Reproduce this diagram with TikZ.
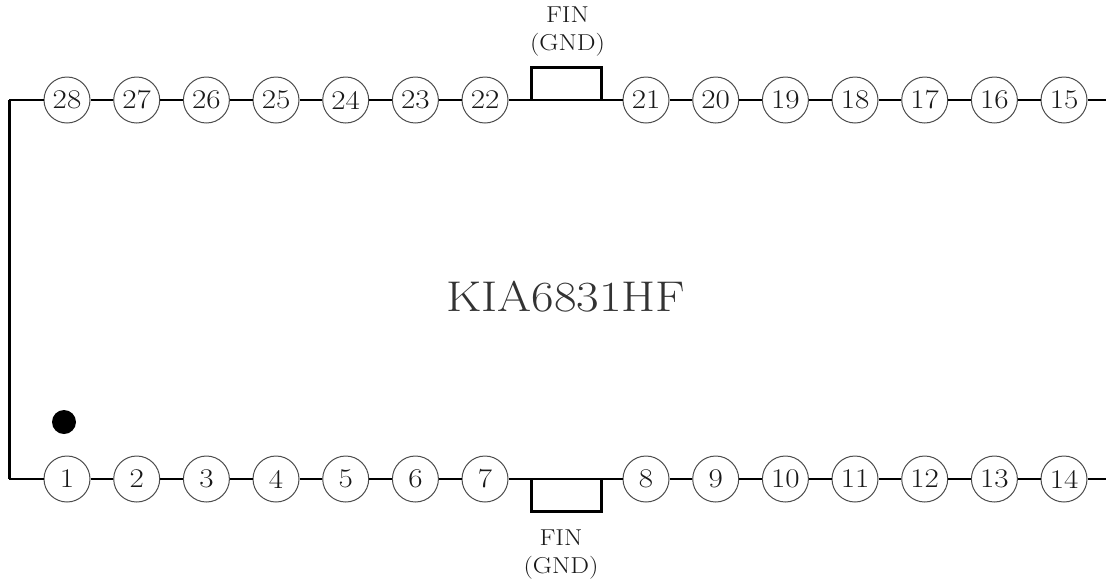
\documentclass[tikz,border=0pt]{standalone}
\newcommand{\widetext}[1]{\scalebox{1.15}[1]{#1}}
\tikzset{
  pin/.style={circle,draw=black!70,line width=1pt,minimum size=46pt,inner sep=0pt,text=black!90,font=\fontsize{27}{27}\selectfont,fill=white},
  finlabel/.style={align=center,inner sep=0pt,text=black!90,font=\fontsize{23}{28}\selectfont},
  wiretop/.style={line width=1.8pt,black},
  wirebot/.style={line width=2.6pt,black},
  finbox/.style={line width=3pt,black,line join=miter},
  sideline/.style={line width=3pt,black,line join=miter},
}
\begin{document}
\begin{tikzpicture}[x=1pt,y=-1pt]
\useasboundingbox (0,0) rectangle (1106,582);
\fill[white] (0,0) rectangle (1106,582);
% corner and free-end coordinates
\coordinate (tl) at (9,100);
\coordinate (bl) at (9,479);
\coordinate (tr) at (1106,100);
\coordinate (br) at (1106,479);
% top row pins
\foreach \n/\x in {28/67,27/136.7,26/206.4,25/276,24/345.7,23/415.4,22/485,21/646,20/715.7,19/785.4,18/855,17/924.7,16/994.4,15/1064}
  \node[pin] (p\n) at (\x,100) {\widetext{\n}};
% bottom row pins
\foreach \n/\x in {1/67,2/136.7,3/206.4,4/276,5/345.7,6/415.4,7/485,8/646,9/715.7,10/785.4,11/855,12/924.7,13/994.4,14/1064}
  \node[pin] (p\n) at (\x,479) {\widetext{\n}};
% top wires
\foreach \a/\b in {28/27,27/26,26/25,25/24,24/23,23/22,22/21,21/20,20/19,19/18,18/17,17/16,16/15}
  \draw[wiretop] (p\a) -- (p\b);
\draw[wiretop] (p15) -- (tr);
% bottom wires
\foreach \a/\b in {1/2,2/3,3/4,4/5,5/6,6/7,7/8,8/9,9/10,10/11,11/12,12/13,13/14}
  \draw[wirebot] (p\a) -- (p\b);
\draw[wirebot] (p14) -- (br);
% left side
\draw[wiretop] (p28.west) -- (tl);
\draw[wirebot] (p1.west) -- (bl);
\draw[sideline,line cap=square] (tl) -- (bl);
% fins
\draw[finbox] (531,100) -- (531,67.5) -- (601,67.5) -- (601,100);
\draw[finbox] (531,479) -- (531,511) -- (601,511) -- (601,479);
\node[finlabel] (fintop) at (567.5,31.5) {\widetext{FIN}\\\widetext{(GND)}};
\node[finlabel] (finbot) at (561,554.5) {\widetext{FIN}\\\widetext{(GND)}};
% title
\node[inner sep=0pt,text=black!80,font=\fontsize{43}{43}\selectfont] (title) at (566,296.5) {\scalebox{1.14}[1]{KIA6831HF}};
% pin-1 mark
\node[circle,fill=black,minimum size=24pt,inner sep=0pt] (dot) at (64,422) {};
\end{tikzpicture}
\end{document}
